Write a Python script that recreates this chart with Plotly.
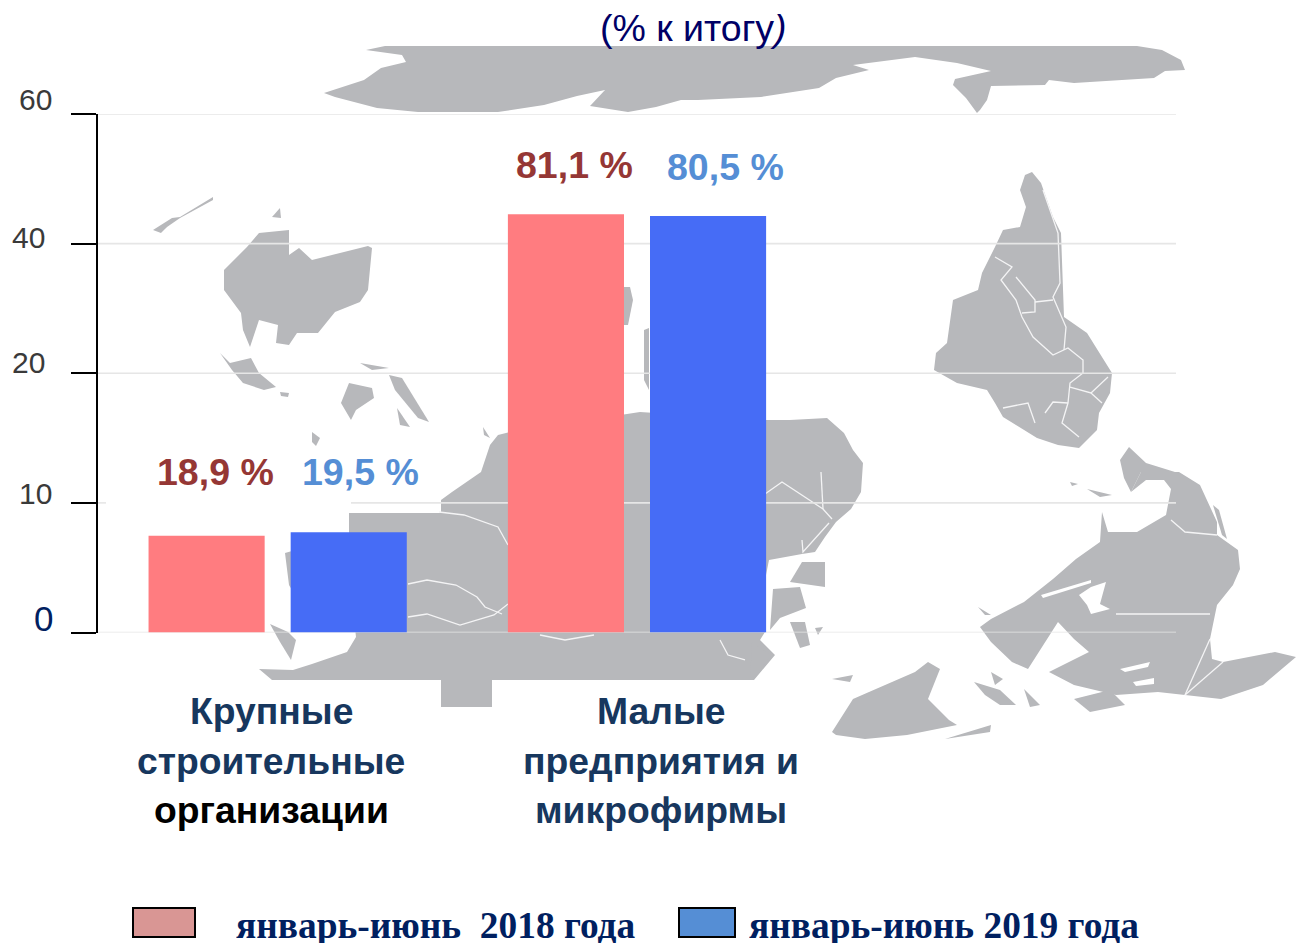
import plotly.graph_objects as go

W, H = 1312, 944

# ---- chart data ----
categories = ["Крупные строительные организации", "Малые предприятия и микрофирмы", " "]
series_names = ["январь-июнь  2018 года", "январь-июнь 2019 года"]
values_2018 = [11.2, 48.4, None]
values_2019 = [11.6, 48.2, None]
labels_2018 = ["18,9 %", "81,1 %"]
labels_2019 = ["19,5 %", "80,5 %"]
tick_positions = [0, 15, 30, 45, 60]
tick_labels = ["0", "10", "20", "40", "60"]

# ---- decorative background map (page pixels) ----
MAP_GRAY = "#b7b8bb"
land = [
    [(366,50),(385,46),(1137,46),(1162,50),(1181,60),(1185,70),(1165,71),(1154,78),(1074,83),(1049,80),(1045,85),(991,86),(987,100),(980,110),(977,113),(966,98),(953,85),(955,79),(991,71),(957,63),(915,57),(853,65),(869,70),(836,78),(819,88),(761,97),(698,100),(681,100),(656,107),(628,112),(590,106),(605,90),(577,96),(544,105),(498,112),(418,112),(377,108),(335,97),(324,93),(364,80),(381,68),(406,62),(402,55)],
    [(259,233),(289,230),(289,255),(299,248),(312,260),(368,246),(372,248),(368,290),(360,302),(335,312),(318,333),(297,333),(289,345),(276,343),(278,325),(259,320),(250,347),(243,330),(241,313),(224,290),(224,270),(247,247)],
    [(153,230),(172,218),(180,217),(213,197),(213,200),(180,218),(167,227),(161,233)],
    [(272,217),(280,208),(281,218)],
    [(220,353),(230,363),(251,358),(259,373),(276,387),(264,390),(243,383),(232,370)],
    [(280,392),(289,393),(288,397),(281,396)],
    [(349,383),(372,388),(374,398),(356,410),(351,420),(341,403)],
    [(389,375),(402,378),(429,422),(418,418),(395,390)],
    [(397,408),(410,427),(400,425)],
    [(360,363),(389,368),(372,370)],
    [(483,427),(490,438),(484,435)],
    [(312,432),(320,438),(316,446),(312,442)],
    [(624,287),(630,287),(633,300),(628,325),(624,325)],
    [(644,330),(649,328),(649,390),(644,380)],
    [(349,513),(441,513),(441,500),(452,492),(481,472),(490,445),(498,435),(510,432),(640,412),(765,420),(790,420),(827,418),(844,433),(853,450),(863,463),(861,492),(851,509),(836,522),(825,537),(815,552),(802,554),(769,560),(765,580),(765,632),(760,640),(775,655),(754,680),(492,680),(492,707),(441,707),(441,680),(272,680),(259,669),(293,670),(312,664),(347,652),(356,637),(352,600),(349,532)],
    [(285,553),(292,551),(292,590),(289,585)],
    [(270,624),(280,642),(291,660),(296,640),(288,632)],
    [(802,562),(825,562),(825,587),(790,582)],
    [(773,589),(800,587),(806,608),(780,618),(770,630)],
    [(790,622),(805,622),(810,645),(800,648)],
    [(815,628),(823,627),(818,635)],
    [(752,642),(771,655),(760,670),(750,680)],
    [(1025,175),(1032,172),(1041,183),(1053,217),(1061,233),(1064,317),(1087,333),(1112,373),(1110,393),(1099,413),(1097,430),(1079,448),(1058,445),(1037,438),(1003,417),(995,403),(987,390),(957,383),(934,370),(936,353),(947,343),(953,300),(978,290),(982,273),(995,247),(1003,230),(1020,227),(1026,207),(1020,190)],
    [(1120,460),(1129,447),(1146,463),(1175,472),(1179,472),(1141,472),(1131,492),(1124,478)],
    [(1131,492),(1141,472),(1179,472),(1200,485),(1217,522),(1217,535),(1238,550),(1240,569),(1233,585),(1217,605),(1210,639),(1212,659),(1223,662),(1275,652),(1296,657),(1263,685),(1221,699),(1185,695),(1158,692),(1116,695),(1074,685),(1049,672),(1089,652),(1074,639),(1058,622),(1028,669),(1012,662),(991,642),(980,627),(991,619),(1024,602),(1053,579),(1076,559),(1100,542),(1102,512),(1108,532),(1137,532),(1166,515),(1171,489),(1164,480),(1146,480)],
    [(1213,505),(1219,510),(1227,539),(1222,535)],
    [(832,679),(853,675),(850,682)],
    [(832,732),(853,699),(869,692),(915,672),(928,662),(940,669),(928,699),(949,720),(957,725),(907,735),(865,739),(836,735)],
    [(974,682),(1000,690),(1016,705),(1000,705),(985,695)],
    [(1074,699),(1110,690),(1125,705),(1090,712)],
    [(945,739),(991,725),(990,732)],
    [(991,672),(1003,679),(995,685)],
    [(1024,689),(1040,705),(1030,707)],
    [(978,607),(991,615),(985,615)],
    [(1087,489),(1112,495),(1100,497)],
    [(1070,482),(1078,484),(1072,486)],
]
holes = [
    [(1087,605),(1079,595),(1091,587),(1106,582),(1100,604),(1110,609),(1091,614)],
    [(1120,669),(1150,662),(1148,667),(1125,672)],
    [(1133,682),(1154,678),(1154,684),(1136,686)],
    [(1041,595),(1091,580),(1091,583),(1043,598)],
    [(972,655),(985,646),(990,655),(978,665)],
]
border_lines = [
    [(408,584),(427,580),(456,585),(477,597),(485,607),(502,614)],
    [(408,617),(427,614),(460,625),(494,615),(508,604)],
    [(439,512),(464,515),(498,527),(508,545)],
    [(540,635),(565,640),(594,635)],
    [(765,494),(782,482),(823,509),(832,519)],
    [(821,472),(823,509)],
    [(802,540),(803,552),(829,523)],
    [(1043,190),(1058,233),(1060,283),(1053,297),(1066,327),(1064,350)],
    [(995,257),(1012,267),(1001,280),(1016,300),(1022,317),(1033,337),(1053,355),(1068,348),(1083,360),(1083,373),(1070,383),(1068,403),(1062,423),(1079,437)],
    [(1016,277),(1035,300),(1035,312),(1022,313)],
    [(1035,302),(1053,300)],
    [(1070,387),(1091,393),(1108,377)],
    [(1091,393),(1102,403)],
    [(1003,408),(1028,403),(1035,423)],
    [(1045,413),(1053,402),(1068,403)],
    [(1116,614),(1210,614)],
    [(1210,639),(1185,695)],
    [(1171,520),(1185,532),(1217,535)],
    [(1223,662),(1185,695)],
    [(720,640),(728,655),(745,660)],
]


def px(x):
    return x / W


def py(y):
    return 1 - y / H


def path(pts, close=True):
    d = "M " + " L ".join(f"{px(x):.5f},{py(y):.5f}" for x, y in pts)
    return d + (" Z" if close else "")


shapes = []
for poly in land:
    shapes.append(dict(type="path", path=path(poly), xref="paper", yref="paper", layer="below",
                       fillcolor=MAP_GRAY, line=dict(width=0)))
for poly in holes:
    shapes.append(dict(type="path", path=path(poly), xref="paper", yref="paper", layer="below",
                       fillcolor="white", line=dict(width=0)))
for ln in border_lines:
    shapes.append(dict(type="path", path=path(ln, False), xref="paper", yref="paper", layer="below",
                       fillcolor="rgba(0,0,0,0)", line=dict(color="#f4f4f5", width=1.3)))
# gridlines over the map, the one at tick "10" broken behind the white label panel
for t in tick_positions:
    spans = [(98, 106), (351, 1176)] if t == 15 else [(98, 1176)]
    for a, b in spans:
        shapes.append(dict(type="line", xref="paper", yref="y", layer="below",
                           x0=px(a), x1=px(b), y0=t, y1=t,
                           line=dict(color="#e6e6e6", width=1.6)))
# legend swatches
for x0, x1, c in [(133, 195, "#d99694"), (679, 735, "#558ed5")]:
    shapes.append(dict(type="rect", xref="paper", yref="paper", x0=px(x0), x1=px(x1),
                       y0=py(937), y1=py(908), fillcolor=c, line=dict(color="black", width=2)))

fig = go.Figure()
fig.add_bar(x=categories, y=values_2018, name=series_names[0], marker=dict(color="#ff7c80", line=dict(width=0)))
fig.add_bar(x=categories, y=values_2019, name=series_names[1], marker=dict(color="#466cf6", line=dict(width=0)))

annotations = []


def note(x, y, text, size, color, family="Liberation Sans", bold=False, height=None):
    t = f"<b>{text}</b>" if bold else text
    a = dict(x=px(x), y=py(y), xref="paper", yref="paper", text=t, showarrow=False,
             xanchor="center", yanchor="middle", align="center",
             font=dict(family=family, size=size, color=color))
    if height:
        a["height"] = height
    annotations.append(a)


note(693, 28, "(% к итогу<i>)</i>", 37.5, "#000066")

tick_label_pos = [(43, 618, 35, "#002060"), (35, 493, 30, "#3a3a3a"), (28, 362, 30, "#3a3a3a"),
                  (28, 237, 30, "#3a3a3a"), (35, 100, 30, "#3a3a3a")]
for lab, (x, y, s, c) in zip(tick_labels, tick_label_pos):
    note(x, y, lab, s, c)

for lab, x, y in zip(labels_2018, [215, 574], [472, 165]):
    note(x, y, lab, 37.5, "#953735", bold=True)
for lab, x, y in zip(labels_2019, [360, 725], [472, 167]):
    note(x, y, lab, 37.5, "#558ed5", bold=True)

NAVY = "#17375e"
for line, y, c in [("Крупные", 711, NAVY), ("строительные", 761, NAVY), ("организации", 810, "#000000")]:
    note(271, y, line, 37.3, c, bold=True)
for line, y in [("Малые", 711), ("предприятия и", 761), ("микрофирмы", 810)]:
    note(661, y, line, 37.3, NAVY, bold=True)

note(436, 925, series_names[0].replace("  ", "\u00a0 "), 37.4, "#002060", family="Liberation Serif", bold=True, height=36)
note(944, 925, series_names[1], 37.4, "#002060", family="Liberation Serif", bold=True, height=36)

fig.update_layout(
    width=W, height=H, margin=dict(l=0, r=0, t=0, b=0), autosize=False,
    paper_bgcolor="white", plot_bgcolor="rgba(0,0,0,0)", showlegend=False,
    barmode="group", bargap=0.209, bargroupgap=0.183,
    shapes=shapes, annotations=annotations,
    xaxis=dict(domain=[px(98), px(1176)], showticklabels=False, ticks="", showgrid=False,
               showline=False, zeroline=False, categoryorder="array", categoryarray=categories),
    yaxis=dict(domain=[py(632.5), py(114)], range=[0, 60], tickvals=tick_positions, ticktext=tick_labels,
               showticklabels=False, ticks="outside", ticklen=25, tickwidth=1.6, tickcolor="black",
               showline=True, linecolor="black", linewidth=1.6,
               showgrid=False, zeroline=False),
)

fig.write_html("out.html", config=dict(displayModeBar=False),
               post_script="document.body.style.margin='0';document.body.style.overflow='hidden';")
